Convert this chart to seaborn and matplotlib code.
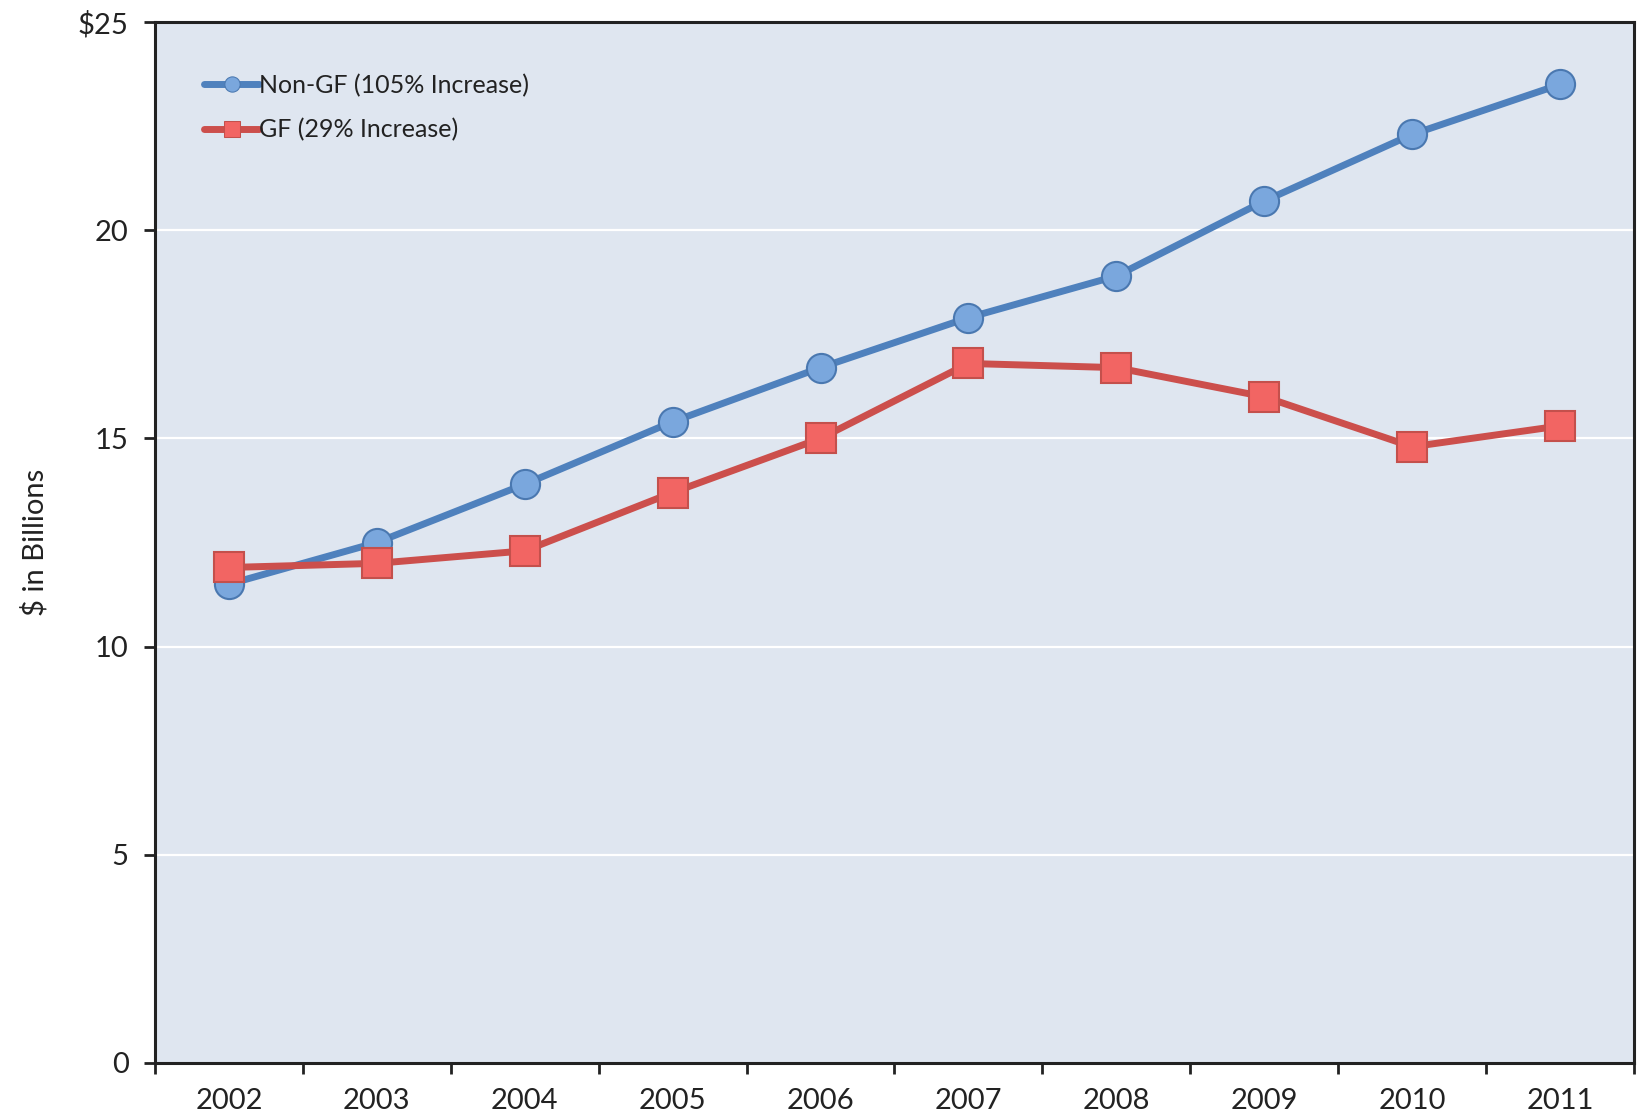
import matplotlib
matplotlib.use("Agg")
import matplotlib.pyplot as plt
import numpy as np
import pandas as pd
import seaborn as sns
from matplotlib.ticker import FixedLocator

years = [2002, 2003, 2004, 2005, 2006, 2007, 2008, 2009, 2010, 2011]
non_gf = [11.5, 12.5, 13.9, 15.4, 16.7, 17.9, 18.9, 20.7, 22.3, 23.5]
gf = [11.9, 12.0, 12.3, 13.7, 15.0, 16.8, 16.7, 16.0, 14.8, 15.3]
series_names = ["Non-GF (105% Increase)", "GF (29% Increase)"]
y_ticks = [0, 5, 10, 15, 20, 25]
y_tick_labels = ["0", "5", "10", "15", "20", "$25"]

df = pd.DataFrame({
    "Year": years * 2,
    "Value": non_gf + gf,
    "Series": [series_names[0]] * len(years) + [series_names[1]] * len(years),
})

sns.set_theme(style="white")
plt.rcParams["font.family"] = ["Lato", "DejaVu Sans"]

fig = plt.figure(figsize=(16.4, 11.18), dpi=100)
ax = fig.add_axes([0.0945, 0.0492, 0.9018, 0.9311])
ax.set_facecolor("#dfe6f0")

line_colors = {series_names[0]: "#4f81bd", series_names[1]: "#cc4f4c"}
face_colors = {series_names[0]: "#7aa7dd", series_names[1]: "#f26563"}
edge_colors = {series_names[0]: "#4a78b0", series_names[1]: "#c4504c"}

sns.lineplot(data=df, x="Year", y="Value", hue="Series", style="Series",
             markers={series_names[0]: "o", series_names[1]: "s"},
             dashes=False, palette=line_colors, linewidth=5,
             markersize=21, ax=ax, legend=True, zorder=3)

for line, name in zip(ax.lines[:2], series_names):
    line.set_markerfacecolor(face_colors[name])
    line.set_markeredgecolor(edge_colors[name])
    line.set_markeredgewidth(1.5)

ax.set_xlim(2001.5, 2011.5)
ax.set_ylim(0, 25)

ax.set_yticks(y_ticks)
ax.set_yticklabels(y_tick_labels)
for y in y_ticks[1:-1]:
    ax.axhline(y, color="white", linewidth=1.6, zorder=1)

ax.xaxis.set_major_locator(FixedLocator(np.arange(2001.5, 2012.0, 1.0)))
ax.xaxis.set_minor_locator(FixedLocator(years))
ax.set_xticklabels([])
ax.set_xticklabels([str(y) for y in years], minor=True)
ax.tick_params(axis="x", which="major", direction="out", length=8, width=2,
               color="#222222", bottom=True)
ax.tick_params(axis="x", which="minor", length=0, pad=18,
               labelsize=21, labelcolor="#222222")
ax.tick_params(axis="y", which="major", direction="out", length=8, width=2,
               color="#222222", left=True, pad=11, labelsize=21,
               labelcolor="#222222")

for side in ["left", "bottom", "top", "right"]:
    ax.spines[side].set_visible(True)
    ax.spines[side].set_color("#222222")
    ax.spines[side].set_linewidth(2.2)

ax.set_xlabel("")
ax.set_ylabel("$ in Billions", fontsize=21, color="#222222")
ax.yaxis.set_label_coords(-0.072, 0.5)

handles, labels = ax.get_legend_handles_labels()
for h, name in zip(handles, series_names):
    h.set_markersize(11)
    h.set_linewidth(5)
    h.set_markerfacecolor(face_colors[name])
    h.set_markeredgecolor(edge_colors[name])
leg = ax.legend(handles, labels, loc="upper left", bbox_to_anchor=(0.018, 0.972),
                frameon=False, fontsize=18, handlelength=2.2, handletextpad=0.0,
                labelspacing=0.85, labelcolor="#222222")

fig.savefig("out.png", dpi=100, facecolor="white")
